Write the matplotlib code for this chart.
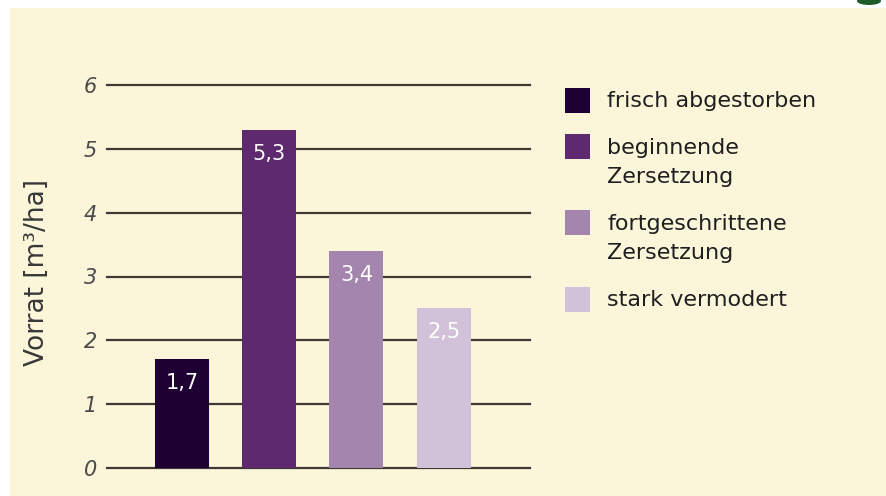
import matplotlib
matplotlib.use("Agg")
import matplotlib.pyplot as plt
from matplotlib.patches import Rectangle, Ellipse

categories = ["frisch abgestorben", "beginnende\nZersetzung", "fortgeschrittene\nZersetzung", "stark vermodert"]
values = [1.7, 5.3, 3.4, 2.5]
value_labels = ["1,7", "5,3", "3,4", "2,5"]
colors = ["#1e0033", "#5e296e", "#a385ae", "#d1c2d9"]
yticks = [0, 1, 2, 3, 4, 5, 6]
ylabel = "Vorrat [m³/ha]"

W, H = 886, 496
bg = "#fbf5da"
fig = plt.figure(figsize=(W / 100, H / 100), dpi=100, facecolor="white")
fig.patches.append(Rectangle((10 / W, 0), (W - 10) / W, (H - 8) / H, transform=fig.transFigure,
                             facecolor=bg, edgecolor="none", zorder=-10))
fig.patches.append(Ellipse((869 / W, (H - 1) / H), 24 / W, 8 / H, transform=fig.transFigure,
                           facecolor="#1f5a2a", edgecolor="none", zorder=-9))

def fx(px):
    return px / W

def fy(py):
    return (H - py) / H

ax = fig.add_axes([fx(107), fy(468), fx(530) - fx(107), fy(85) - fy(468)])
ax.set_facecolor("none")
x = list(range(len(values)))
ax.bar(x, values, width=0.62, color=colors, zorder=3, edgecolor="none")
ax.set_xlim(-0.86, 3.99)
ax.set_ylim(0, 6)
ax.set_yticks(yticks)
ax.set_yticklabels([str(t) for t in yticks], fontstyle="italic", fontsize=15,
                   color="#4a4a4a", family="DejaVu Sans")
ax.tick_params(axis="y", length=0, pad=7)
ax.set_xticks([])
for s in ax.spines.values():
    s.set_visible(False)
for t in yticks:
    ax.axhline(t, color="#3c3a33", lw=1.6, zorder=1, clip_on=False)
for xi, v, lab in zip(x, values, value_labels):
    ax.annotate(lab, (xi, v), xytext=(0, -10), textcoords="offset points",
                ha="center", va="top", color="white", fontsize=15,
                family="DejaVu Sans", zorder=4)

fig.text(fx(37), fy(273), ylabel, rotation=90, ha="center", va="center",
         fontsize=19, color="#383838", family="DejaVu Sans")

# legend
entries_y = [101, 147, 223, 300]
for c, lab, yy in zip(colors, categories, entries_y):
    fig.patches.append(Rectangle((fx(565), fy(yy + 12)), fx(25), 25 / H,
                                 transform=fig.transFigure, facecolor=c, edgecolor="none"))
    nlines = lab.count("\n") + 1
    cy = yy + (nlines - 1) * 31 / 2
    fig.text(fx(607), fy(cy), lab, ha="left", va="center",
             fontsize=16, color="#1f1f1f", family="DejaVu Sans",
             linespacing=1.6, transform=fig.transFigure)

fig.savefig("out.png", dpi=100, facecolor="white")
